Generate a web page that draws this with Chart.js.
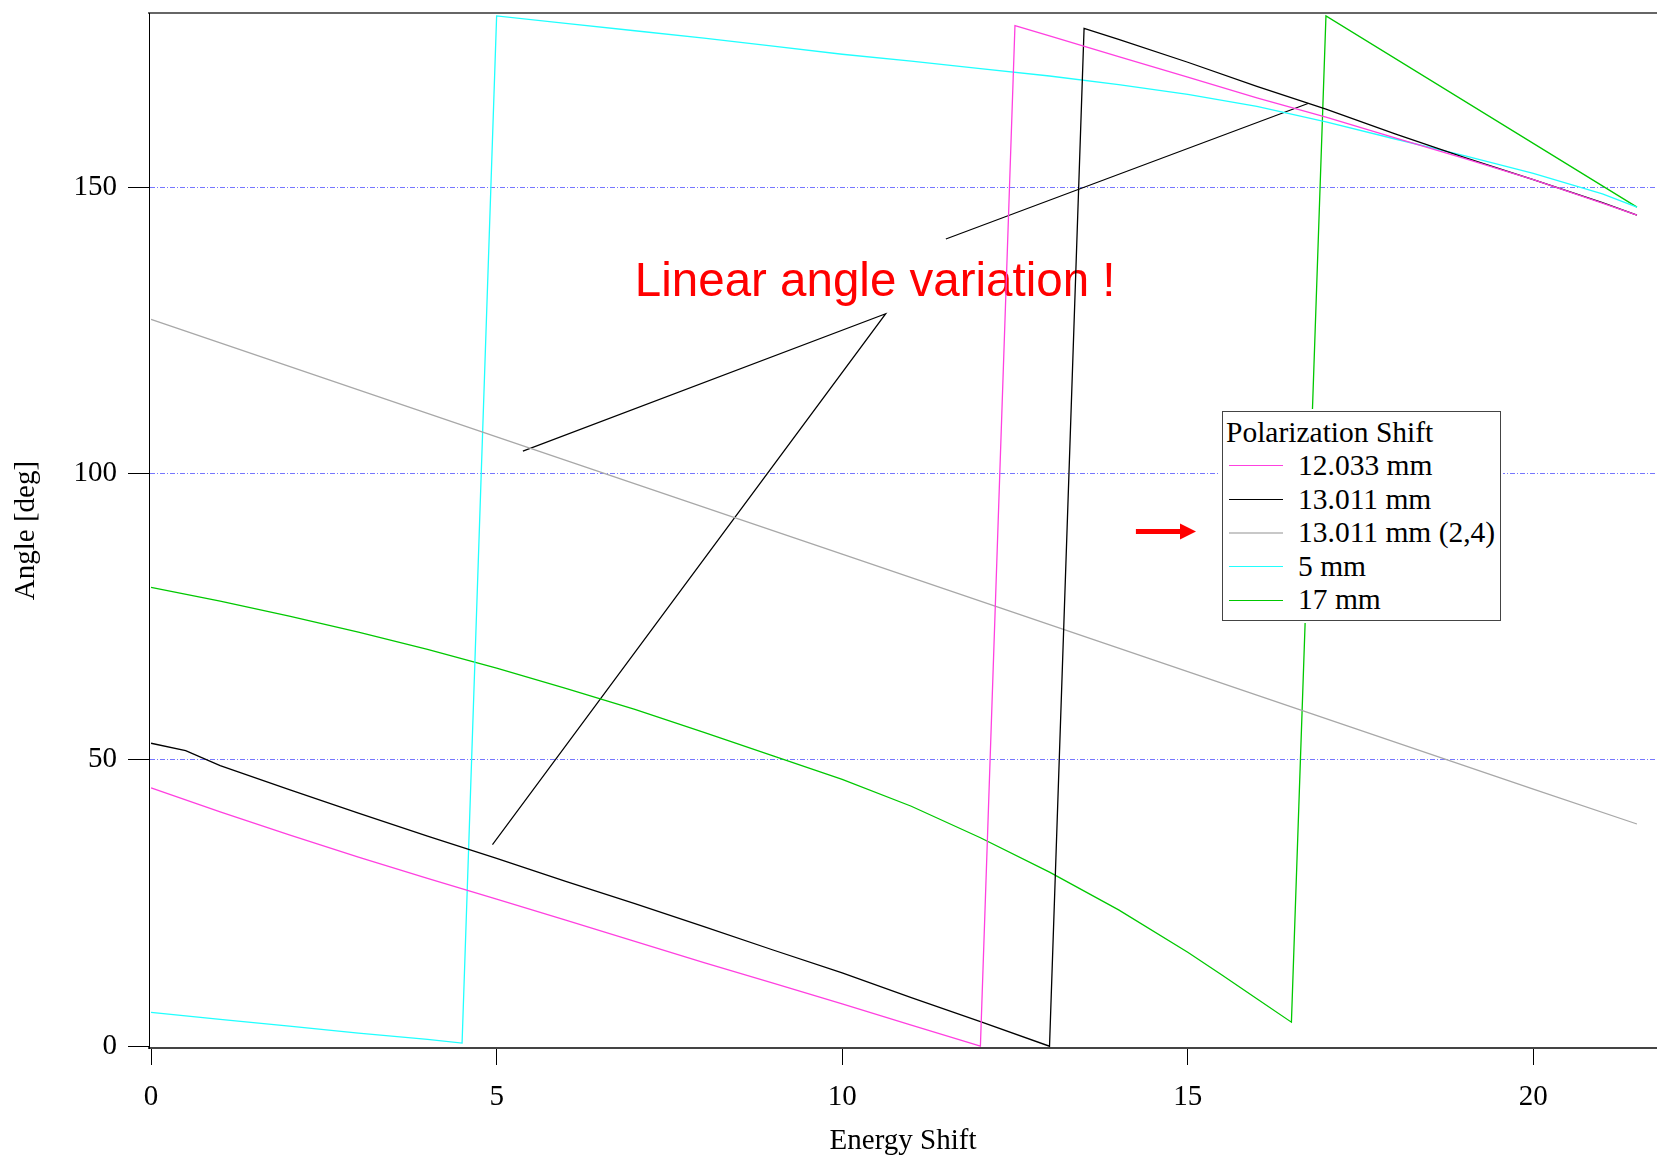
<!DOCTYPE html>
<html>
<head>
<meta charset="utf-8">
<script src="https://cdn.jsdelivr.net/npm/chart.js@4.4.0/dist/chart.umd.min.js"></script>
<style>
  html, body { margin: 0; padding: 0; background: #fff; }
  #wrap { position: relative; width: 1657px; height: 1156px; }
  #legend {
    position: absolute; left: 1222px; top: 411px; width: 279px; height: 210px;
    box-sizing: border-box; border: 1.5px solid #444; background: #fff; outline: 2px solid #fff;
    font-family: 'Liberation Serif', 'Times New Roman', serif; font-size: 29.5px; line-height: 33.6px;
    color: #000; padding: 3.5px 0 0 3px; white-space: nowrap;
  }
  #legend .row { display: flex; align-items: center; height: 33.6px; }
  #legend .swatch { display: inline-block; width: 54px; height: 0; margin: 0 15px 0 3px; }
</style>
</head>
<body>
<div id="wrap">
  <canvas id="chartCanvas"></canvas>
  <div id="legend"></div>
</div>
<script>
// Polarization shift series (x = energy shift, y = angle in deg)
let pinkX  = [0, 1, 2, 3, 4, 5, 6, 7, 8, 9, 10, 11, 12, 12.5, 13, 14, 15, 16, 17, 18, 19, 20, 21, 21.5];
let pinkY  = [45.1, 40.9, 36.9, 33.0, 29.3, 25.7, 22.0, 18.3, 14.6, 11.0, 7.4, 3.7, 0, 178.2, 176.4, 172.8, 169.2, 165.6, 162.2, 158.6, 155.0, 151.3, 147.2, 145.1];

let blackX = [0, 0.5, 1, 2, 3, 4, 5, 6, 7, 8, 9, 10, 11, 12, 13, 13.5, 14, 15, 16, 17, 18, 19, 20, 21, 21.5];
let blackY = [52.9, 51.6, 49.0, 44.8, 40.7, 36.7, 32.8, 28.8, 24.9, 20.9, 16.8, 12.8, 8.5, 4.3, 0, 177.7, 175.8, 171.8, 167.6, 163.6, 159.3, 155.2, 151.3, 147.3, 145.1];

let grayX  = [0, 5, 10, 15, 20, 21.5];
let grayY  = [126.9, 106.4, 85.9, 65.4, 44.9, 38.8];

let cyanX  = [0, 1, 2, 3, 4, 4.5, 5, 6, 7, 8, 9, 10, 11, 12, 13, 14, 15, 16, 17, 18, 19, 20, 21, 21.5];
let cyanY  = [5.9, 4.7, 3.5, 2.3, 1.2, 0.55, 179.9, 178.6, 177.3, 176.0, 174.6, 173.2, 172.0, 170.7, 169.4, 167.9, 166.2, 164.1, 161.4, 158.4, 155.5, 152.4, 148.8, 146.5];

let greenX = [0, 1, 2, 3, 4, 5, 6, 7, 8, 9, 10, 11, 12, 13, 14, 15, 15.5, 16, 16.5, 17, 21.5];
let greenY = [80.1, 77.7, 75.1, 72.3, 69.3, 66.0, 62.5, 58.8, 54.8, 50.7, 46.6, 41.9, 36.4, 30.4, 23.8, 16.4, 12.4, 8.3, 4.2, 179.9, 146.5];

let seriesLabels = ['12.033 mm', '13.011 mm', '13.011 mm (2,4)', '5 mm', '17 mm'];
let seriesColors = ['#ff40e0', '#000000', '#a8a8a8', '#20ffff', '#00c800'];
let legendTitle = 'Polarization Shift';

// annotation pointer lines
let pointer1X = [5.38, 10.63, 4.94];
let pointer1Y = [103.9, 127.9, 35.2];
let pointer2X = [11.5, 16.74];
let pointer2Y = [140.95, 164.6];
let noteText = 'Linear angle variation !';
let noteAt = [7.0, 131.0];
let arrowX = [14.25, 15.12];
let arrowY = 89.85;

let yTicks = [0, 50, 100, 150];

function toPoints(xs, ys) {
    return xs.map((x, i) => ({ x: x, y: ys[i] }));
}

let serif = "'Liberation Serif', 'Times New Roman', serif";

let datasets = [
    toPoints(pinkX, pinkY), toPoints(blackX, blackY), toPoints(grayX, grayY),
    toPoints(cyanX, cyanY), toPoints(greenX, greenY)
].map((pts, i) => ({
    label: seriesLabels[i],
    data: pts,
    borderColor: seriesColors[i],
    borderWidth: 1.3,
    pointRadius: 0,
    fill: false,
    tension: 0
}));

datasets.push({ label: 'pointer1', data: toPoints(pointer1X, pointer1Y), borderColor: '#000', borderWidth: 1.2, pointRadius: 0, tension: 0 });
datasets.push({ label: 'pointer2', data: toPoints(pointer2X, pointer2Y), borderColor: '#000', borderWidth: 1.2, pointRadius: 0, tension: 0 });

let notes = {
    id: 'notes',
    beforeDatasetsDraw(chart) {
        let ctx = chart.ctx;
        let x = chart.scales.x, y = chart.scales.y;
        ctx.save();
        ctx.fillStyle = '#ff0000';
        ctx.font = "47.5px 'Liberation Sans', Arial, sans-serif";
        ctx.textBaseline = 'alphabetic';
        ctx.textAlign = 'left';
        ctx.fillText(noteText, x.getPixelForValue(noteAt[0]), y.getPixelForValue(noteAt[1]));

        // red arrow
        let x1 = x.getPixelForValue(arrowX[0]);
        let x2 = x.getPixelForValue(arrowX[1]);
        let ay = y.getPixelForValue(arrowY);
        ctx.strokeStyle = '#ff0000';
        ctx.lineWidth = 5;
        ctx.beginPath();
        ctx.moveTo(x1, ay);
        ctx.lineTo(x2 - 14, ay);
        ctx.stroke();
        ctx.beginPath();
        ctx.moveTo(x2, ay);
        ctx.lineTo(x2 - 16, ay - 8);
        ctx.lineTo(x2 - 16, ay + 8);
        ctx.closePath();
        ctx.fill();
        ctx.restore();
    }
};

let ctx = document.getElementById('chartCanvas').getContext('2d');
let chart = new Chart(ctx, {
    type: 'line',
    data: { datasets: datasets },
    options: {
        responsive: true,
        maintainAspectRatio: false,
        animation: false,
        layout: { padding: 0 },
        plugins: {
            legend: { display: false },
            tooltip: { enabled: false }
        },
        scales: {
            x: {
                type: 'linear',
                position: 'bottom',
                min: -0.03,
                max: 21.79,
                afterFit: (s) => { s.height = 108; },
                ticks: { stepSize: 5, includeBounds: false, padding: 15, color: '#000', font: { family: serif, size: 29 } },
                grid: { drawOnChartArea: false, tickLength: 17, tickColor: '#000', tickWidth: 1 },
                border: { color: '#444', width: 2 },
                title: { display: true, text: 'Energy Shift', color: '#000', padding: 0, font: { family: serif, size: 29, lineHeight: 1.0 } }
            },
            top: {
                type: 'linear',
                axis: 'x',
                position: 'top',
                min: -0.03,
                max: 21.79,
                afterFit: (s) => { s.height = 13; },
                ticks: { display: false },
                grid: { display: false, drawTicks: false },
                border: { color: '#666', width: 2 }
            },
            y: {
                type: 'linear',
                min: -0.31,
                max: 180.4,
                afterFit: (s) => { s.width = 149; },
                afterBuildTicks: (s) => { s.ticks = yTicks.map(v => ({ value: v })); },
                ticks: { padding: 11, color: '#000', font: { family: serif, size: 29, lineHeight: 0.05 } },
                grid: {
                    color: (c) => (c.tick && c.tick.value > 0) ? 'rgba(95,95,255,0.85)' : 'rgba(0,0,0,0)',
                    lineWidth: 1,
                    tickLength: 21,
                    tickColor: '#000',
                    tickWidth: 1
                },
                border: { color: '#000', width: 1, dash: [5, 2, 1, 2] },
                title: { display: true, text: 'Angle [deg]', color: '#000', padding: { top: 9, bottom: 0 }, font: { family: serif, size: 29 } }
            }
        }
    },
    plugins: [notes]
});

// legend built from the series arrays
let legend = document.getElementById('legend');
let html = '<div class="row">' + legendTitle + '</div>';
seriesLabels.forEach((lab, i) => {
    let w = i === 2 ? 2 : 1.5;
    let col = i === 2 ? '#c8c8c8' : seriesColors[i];
    html += '<div class="row"><span class="swatch" style="border-top:' + w + 'px solid ' + col + '"></span>' + lab + '</div>';
});
legend.innerHTML = html;
</script>
</body>
</html>
